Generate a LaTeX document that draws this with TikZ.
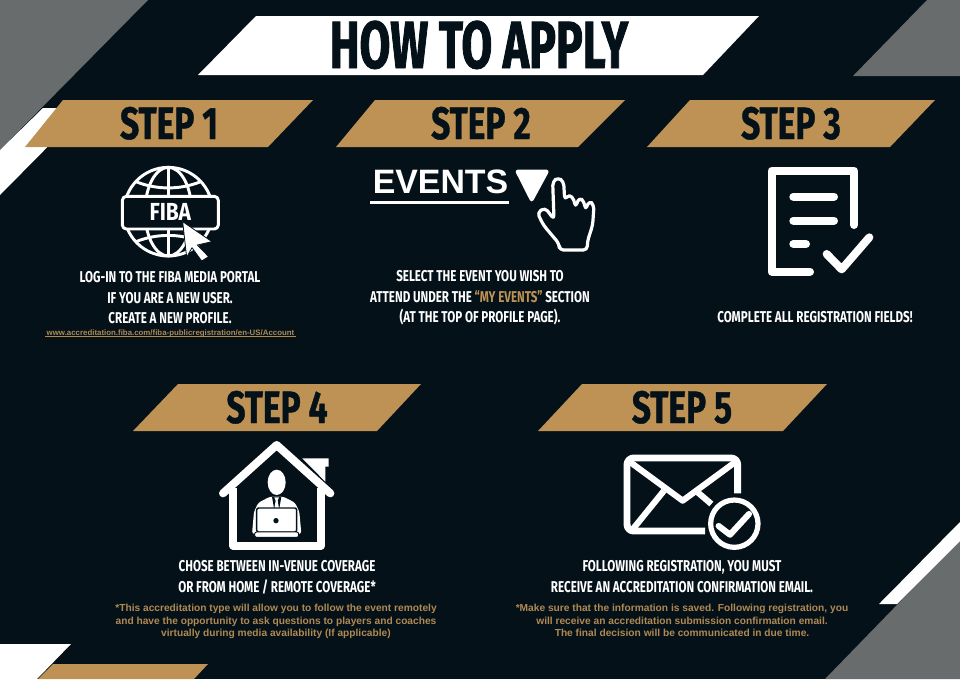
\documentclass[tikz,border=0pt]{standalone}
\usepackage{fontspec}
\setmainfont{Liberation Sans}
\newfontfamily\headfont[FakeStretch=0.74]{Fira Sans}
\newfontfamily\bigfont[FakeStretch=0.67,BoldFeatures={FakeBold=1.2}]{Fira Sans}
\newfontfamily\stepfont[FakeStretch=0.74,BoldFeatures={FakeBold=0.8}]{Fira Sans}
\newfontfamily\logofont[FakeStretch=0.85]{Fira Sans}
\definecolor{bgdark}{RGB}{4,17,25}
\definecolor{gold}{RGB}{189,146,84}
\definecolor{slate}{RGB}{104,108,108}
\definecolor{noteg}{RGB}{176,137,82}
\tikzset{
  goldbar/.style={fill=gold,draw=none},
  steptext/.style={anchor=base,inner sep=0pt,text=bgdark,font=\stepfont\bfseries\fontsize{34}{34}\selectfont},
  bodytext/.style={anchor=base,inner sep=0pt,text=white,font=\headfont\bfseries\fontsize{11.75}{12}\selectfont},
  notetext/.style={anchor=base,inner sep=0pt,text=noteg,font=\bfseries\fontsize{7.65}{8}\selectfont},
  wline/.style={draw=white,line width=6pt,line cap=round,line join=round},
  thin white/.style={draw=white,line width=2.2pt,line cap=round,line join=round},
}
\begin{document}
\begin{tikzpicture}[x=0.75pt,y=-0.75pt]
\useasboundingbox (0,0) rectangle (960,679);
\fill[bgdark] (0,0) rectangle (960,679);
% corner decorations
\fill[slate] (0,0) -- (148,0) -- (0,150) -- cycle;
\fill[white] (43,108) -- (86,108) -- (0,195) -- (0,150) -- cycle;
\fill[slate] (927,0) -- (960,0) -- (960,76) -- (853,76) -- cycle;
\fill[slate] (960,540) -- (960,679) -- (825,679) -- cycle;
\fill[white] (960,522) -- (960,541) -- (897,604) -- (879,604) -- cycle;
\fill[white] (0,644) -- (71,644) -- (37,679) -- (0,679) -- cycle;
\fill[gold] (53,664) -- (208,664) -- (194,679) -- (38,679) -- cycle;
% title
\fill[white] (256,16) -- (759,16) -- (703,75) -- (198,75) -- cycle;
\node[anchor=base,inner sep=0pt,text=bgdark,font=\bigfont\bfseries\fontsize{50}{50}\selectfont] (title) at (479,68) {HOW TO APPLY};
% step bars
\fill[goldbar] (63,100) -- (313,100) -- (268,147) -- (25,147) -- cycle;
\fill[goldbar] (375,100) -- (625,100) -- (578,147) -- (336,147) -- cycle;
\fill[goldbar] (690,100) -- (935,100) -- (890,147) -- (647,147) -- cycle;
\fill[goldbar] (178,384) -- (421,384) -- (377,431) -- (133,431) -- cycle;
\fill[goldbar] (582,384) -- (827,384) -- (783,431) -- (538,431) -- cycle;
\node[steptext] (s1) at (169,139) {STEP 1};
\node[steptext] (s2) at (481,139) {STEP 2};
\node[steptext] (s3) at (791,139) {STEP 3};
\node[steptext] (s4) at (277,423) {STEP 4};
\node[steptext] (s5) at (682,423) {STEP 5};
% globe
\begin{scope}[x=.25pt,y=-.25pt]
  \draw[thin white] (505,635) circle[radius=133];
  \draw[thin white] (505,635) ellipse[x radius=70,y radius=133];
  \draw[thin white] (505,502) -- (505,768);
  \draw[thin white] (408,545) .. controls (470,570) and (540,570) .. (602,545);
  \draw[thin white] (408,725) .. controls (470,700) and (540,700) .. (602,725);
  \draw[thin white,fill=bgdark,rounded corners=3pt] (367,589) rectangle (655,687);
  \node[inner sep=0pt,text=white,font=\logofont\bfseries\fontsize{18.5}{19}\selectfont] (fiba) at (511,637) {FIBA};
  \fill[white,draw=bgdark,line width=.6pt,line join=round] (548,665) -- (636,725) -- (592,735) -- (626,770) -- (605,783) -- (576,743) -- (560,772) -- cycle;
\end{scope}
% step 1 text
\node[bodytext] (t1a) at (170,282) {LOG-IN TO THE FIBA MEDIA PORTAL};
\node[bodytext] (t1b) at (170,303) {IF YOU ARE A NEW USER.};
\node[bodytext] (t1c) at (170,323.5) {CREATE A NEW PROFILE.};
\node[anchor=base,inner sep=0pt,text=noteg,font=\bfseries\fontsize{5.9}{6}\selectfont] (url) at (170.5,335) {www.accreditation.fiba.com/fiba-publicregistration/en-US/Account};
\draw[noteg,line width=.5pt] (45,336.5) -- (296,336.5);
% events
\node[anchor=base,inner sep=0pt,text=white,font=\bfseries\fontsize{25.4}{26}\selectfont] (ev) at (440.5,193) {EVENTS};
\draw[white,line width=2.8pt] (370,202.5) -- (509,202.5);
\begin{scope}[shift={(330,90)},x=.25pt,y=-.25pt]
  \fill[white,draw=white,line width=3pt,line join=round] (563,245) -- (650,245) -- (605,328) -- cycle;
  \draw[draw=white,line width=2.4pt,line join=round,fill=bgdark,rounded corners=3pt] (688,480) -- (688,462) -- (640,405) -- (622,368) -- (645,353) -- (672,388) -- (668,275) -- (684,262) -- (701,275) -- (704,330) -- (718,312) -- (733,330) -- (736,352) -- (748,322) -- (763,335) -- (766,360) -- (778,332) -- (792,345) -- (788,405) -- (772,455) -- (772,480) -- cycle;
\end{scope}
\node[bodytext] (t2a) at (480,281) {SELECT THE EVENT YOU WISH TO};
\node[bodytext] (t2b) at (480,302) {ATTEND UNDER THE {\color{gold}“MY EVENTS”} SECTION};
\node[bodytext] (t2c) at (480,322) {(AT THE TOP OF PROFILE PAGE).};
% document icon
\begin{scope}[shift={(640,0)},x=.25pt,y=-.25pt]
  \draw[wline] (510,815) -- (395,815) -- (395,512) -- (642,512) -- (642,675);
  \draw[wline] (460,590) -- (582,590);
  \draw[wline] (460,662) -- (582,662);
  \draw[wline] (460,732) -- (498,732);
  \draw[wline] (560,762) -- (605,808) -- (688,712);
\end{scope}
\node[bodytext] (t3) at (815,322.5) {COMPLETE ALL REGISTRATION FIELDS!};
% house
\begin{scope}[shift={(130,380)},x=.25pt,y=-.25pt]
  \fill[white] (517,235) -- (596,235) -- (596,260) -- (586,260) -- (586,305) -- cycle;
  \draw[wline] (279,340) -- (440,195) -- (601,340);
  \draw[wline,line cap=butt] (310,325) -- (310,497) -- (573,497) -- (573,325);
  \fill[white] (440,307) ellipse[x radius=27,y radius=38];
  \fill[white,rounded corners=2pt] (366,462) -- (372,395) -- (385,368) -- (420,350) -- (460,350) -- (495,368) -- (508,395) -- (514,462) -- cycle;
  \fill[bgdark] (426,350) -- (454,350) -- (448,385) -- (432,385) -- cycle;
  \fill[white] (433,352) -- (447,352) -- (443,362) -- (447,385) -- (433,385) -- (437,362) -- cycle;
  \filldraw[fill=white,draw=bgdark,rounded corners=1.5pt,line width=1.1pt] (380,384) rectangle (500,456);
  \filldraw[fill=white,draw=bgdark,line width=.7pt,rounded corners=1.5pt] (374,456) rectangle (506,472);
  \fill[bgdark] (438,422) circle[radius=8];
\end{scope}
\node[bodytext] (t4a) at (277,571.5) {CHOSE BETWEEN IN-VENUE COVERAGE};
\node[bodytext] (t4b) at (277,592) {OR FROM HOME / REMOTE COVERAGE*};
\node[notetext] (n4a) at (276,611) {*This accreditation type will allow you to follow the event remotely};
\node[notetext] (n4b) at (276,624) {and have the opportunity to ask questions to players and coaches};
\node[notetext] (n4c) at (276,636.5) {virtually during media availability (If applicable)};
% envelope
\begin{scope}[shift={(500,380)},x=.25pt,y=-.25pt]
  \draw[wline,line width=5.2pt,line cap=butt,rounded corners=5pt] (713,340) -- (713,234) -- (381,234) -- (381,453) -- (615,453);
  \draw[wline,line width=4.6pt,line cap=butt] (390,246) -- (548,362) -- (706,246);
  \draw[wline,line width=4.6pt,line cap=butt] (398,448) -- (492,332);
  \draw[wline,line width=4.6pt,line cap=butt] (592,336) -- (634,372);
  \draw[white,line width=3.9pt] (703,431) circle[radius=71];
  \draw[wline,line width=4.6pt] (656,438) -- (690,464) -- (747,402);
\end{scope}
\node[bodytext] (t5a) at (682,571.5) {FOLLOWING REGISTRATION, YOU MUST};
\node[bodytext] (t5b) at (682,592) {RECEIVE AN ACCREDITATION CONFIRMATION EMAIL.};
\node[notetext] (n5a) at (682,611) {*Make sure that the information is saved. Following registration, you};
\node[notetext] (n5b) at (682,624) {will receive an accreditation submission confirmation email.};
\node[notetext] (n5c) at (682,636.5) {The final decision will be communicated in due time.};
\end{tikzpicture}
\end{document}
